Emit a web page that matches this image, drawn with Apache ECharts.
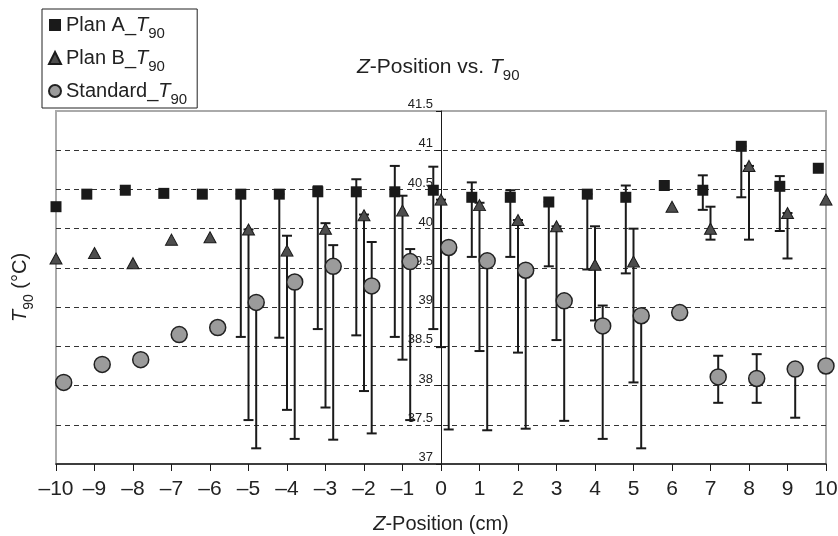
<!DOCTYPE html>
<html>
<head>
<meta charset="utf-8">
<title>Z-Position vs. T90</title>
<script src="https://cdn.jsdelivr.net/npm/echarts@6/dist/echarts.min.js"></script>
<style>
    html, body { margin: 0; padding: 0; background: #fff; }
    #chart { width: 838px; height: 536px; }
</style>
</head>
<body>
<div id="chart"></div>
<script>
// Z positions (cm)
var zPositions = [-10, -9, -8, -7, -6, -5, -4, -3, -2, -1, 0, 1, 2, 3, 4, 5, 6, 7, 8, 9, 10];

// T90 (°C), error bar ends (null = no bar)
var planA = [40.28, 40.44, 40.49, 40.45, 40.44, 40.44, 40.44, 40.47, 40.47, 40.47, 40.49, 40.40, 40.40, 40.34, 40.44, 40.40, 40.55, 40.49, 41.05, 40.54, 40.77];
var planAHigh = [null, null, null, null, null, 40.44, 40.44, 40.54, 40.63, 40.80, 40.79, 40.59, 40.49, 40.34, 40.44, 40.55, null, 40.68, 41.05, 40.67, null];
var planALow = [null, null, null, null, null, 38.62, 38.61, 38.72, 38.64, 38.62, 38.72, 39.64, 39.64, 39.52, 39.48, 39.43, null, 40.24, 40.40, 39.97, null];

var planB = [39.62, 39.69, 39.56, 39.86, 39.89, 39.99, 39.72, 40.00, 40.17, 40.23, 40.37, 40.30, 40.11, 40.03, 39.54, 39.58, 40.28, 40.00, 40.80, 40.20, 40.37];
var planBHigh = [null, null, null, null, null, 39.99, 39.91, 40.07, 40.18, 40.42, 40.37, 40.33, 40.11, 40.03, 40.03, 40.00, null, 40.28, 40.80, 40.20, null];
var planBLow = [null, null, null, null, null, 37.56, 37.69, 37.72, 37.93, 38.33, 38.49, 38.44, 38.42, 38.58, 38.83, 38.04, null, 39.86, 39.86, 39.62, null];

var standard = [38.04, 38.27, 38.33, 38.65, 38.74, 39.06, 39.32, 39.52, 39.27, 39.58, 39.76, 39.59, 39.47, 39.08, 38.76, 38.89, 38.93, 38.11, 38.09, 38.21, 38.25];
var standardHigh = [null, null, null, null, null, 39.06, 39.32, 39.79, 39.83, 39.74, 39.76, 39.59, 39.47, 39.08, 39.02, 38.89, null, 38.38, 38.40, 38.21, null];
var standardLow = [null, null, null, null, null, 37.20, 37.32, 37.31, 37.39, 37.56, 37.44, 37.43, 37.45, 37.55, 37.32, 37.20, null, 37.78, 37.78, 37.59, null];

var seriesNames = ['Plan A', 'Plan B', 'Standard'];

// side-by-side shift of each series around the z position
var shiftA = -0.2, shiftB = 0, shiftStd = 0.2;

function place(z, shift) {
    return Math.min(10, Math.max(-10, z + shift));
}

function points(values, shift) {
    return values.map(function (v, i) {
        return [place(zPositions[i], shift), v];
    });
}

function bars(high, low, shift) {
    var out = [];
    high.forEach(function (h, i) {
        if (h != null && low[i] != null) {
            out.push([place(zPositions[i], shift), low[i], h]);
        }
    });
    return out;
}

function renderBar(params, api) {
    var x = api.value(0);
    var top = api.coord([x, api.value(2)]);
    var bot = api.coord([x, api.value(1)]);
    var w = 5;
    var st = { stroke: '#1a1a1a', lineWidth: 2 };
    return {
        type: 'group',
        children: [
            { type: 'line', shape: { x1: top[0], y1: top[1], x2: bot[0], y2: bot[1] }, style: st },
            { type: 'line', shape: { x1: top[0] - w, y1: top[1], x2: top[0] + w, y2: top[1] }, style: st },
            { type: 'line', shape: { x1: bot[0] - w, y1: bot[1], x2: bot[0] + w, y2: bot[1] }, style: st }
        ]
    };
}

function barSeries(name, data) {
    return {
        name: name,
        type: 'custom',
        renderItem: renderBar,
        encode: { x: 0, y: [1, 2] },
        data: data,
        z: 2,
        silent: true
    };
}

function richText(size, sub) {
    return {
        n: { fontSize: size, color: '#222', fontWeight: 'normal', lineHeight: 32 },
        i: { fontSize: size, color: '#222', fontWeight: 'normal', fontStyle: 'italic', lineHeight: 32 },
        s: { fontSize: sub, color: '#222', fontWeight: 'normal', lineHeight: sub, verticalAlign: 'bottom' }
    };
}

var chart = echarts.init(document.getElementById('chart'));

chart.setOption({
    animation: false,
    textStyle: { fontFamily: "'Liberation Sans', Arial, sans-serif" },
    title: {
        text: '{i|Z}{n|-Position vs. }{i|T}{s|90}',
        left: 357,
        top: 51,
        padding: 0,
        textStyle: { fontWeight: 'normal', rich: richText(21, 15) }
    },
    legend: {
        orient: 'vertical',
        left: 42,
        top: 9,
        padding: [6, 10, 1, 6],
        itemGap: 7,
        itemWidth: 12,
        itemHeight: 12,
        borderColor: '#222',
        borderWidth: 1,
        data: [
            { name: seriesNames[0], icon: 'rect' },
            { name: seriesNames[1], icon: 'triangle' },
            { name: seriesNames[2], icon: 'circle' }
        ],
        formatter: function (name) {
            return '{n|' + name + '_}{i|T}{s|90}';
        },
        textStyle: { rich: richText(20, 15) }
    },
    grid: {
        left: 56,
        right: 12,
        top: 111,
        bottom: 72,
        containLabel: false,
        outerBoundsMode: 'none',
        show: true,
        borderColor: '#aaaaaa',
        borderWidth: 2
    },
    xAxis: {
        type: 'value',
        min: -10,
        max: 10,
        interval: 1,
        name: '{i|Z}{n|-Position (cm)}',
        nameLocation: 'middle',
        nameGap: 44,
        nameTextStyle: { rich: richText(20, 14) },
        axisLine: { onZero: false, lineStyle: { color: '#1a1a1a', width: 1.5 } },
        axisTick: { length: 7, lineStyle: { color: '#1a1a1a' } },
        axisLabel: {
            fontSize: 21,
            color: '#222',
            margin: 15,
            formatter: function (v) {
                return v < 0 ? '\u2013' + Math.abs(v) : String(v);
            }
        },
        splitLine: { show: false }
    },
    yAxis: {
        type: 'value',
        min: 37,
        max: 41.5,
        interval: 0.5,
        position: 'left',
        // axis sits on z = 0, in the middle of the plot
        offset: -385,
        name: '{i|T}{s|90}{n| (°C)}',
        nameLocation: 'middle',
        nameGap: 405,
        nameMoveOverlap: false,
        nameTextStyle: { rich: richText(20, 14) },
        axisLine: { onZero: false, lineStyle: { color: '#1a1a1a', width: 1 } },
        axisTick: { length: 5, lineStyle: { color: '#1a1a1a' } },
        axisLabel: {
            fontSize: 13,
            color: '#222',
            margin: 8,
            verticalAlign: 'bottom'
        },
        splitLine: {
            show: true,
            showMinLine: false,
            showMaxLine: false,
            lineStyle: { color: '#333', width: 1, type: [5, 4] }
        }
    },
    series: [
        barSeries('Plan A bars', bars(planAHigh, planALow, shiftA)),
        barSeries('Plan B bars', bars(planBHigh, planBLow, shiftB)),
        barSeries('Standard bars', bars(standardHigh, standardLow, shiftStd)),
        {
            name: seriesNames[0],
            type: 'scatter',
            symbol: 'rect',
            symbolSize: 11,
            clip: false,
            z: 3,
            itemStyle: { color: '#1a1a1a', opacity: 1 },
            data: points(planA, shiftA)
        },
        {
            name: seriesNames[1],
            type: 'scatter',
            symbol: 'triangle',
            symbolSize: [12, 11],
            clip: false,
            z: 3,
            itemStyle: { color: '#4d4d4d', borderColor: '#1a1a1a', borderWidth: 1, opacity: 1 },
            data: points(planB, shiftB)
        },
        {
            name: seriesNames[2],
            type: 'scatter',
            symbol: 'circle',
            symbolSize: 16,
            clip: false,
            z: 3,
            itemStyle: { color: '#9b9b9b', borderColor: '#222', borderWidth: 1.5, opacity: 1 },
            data: points(standard, shiftStd)
        }
    ]
});
</script>
</body>
</html>
